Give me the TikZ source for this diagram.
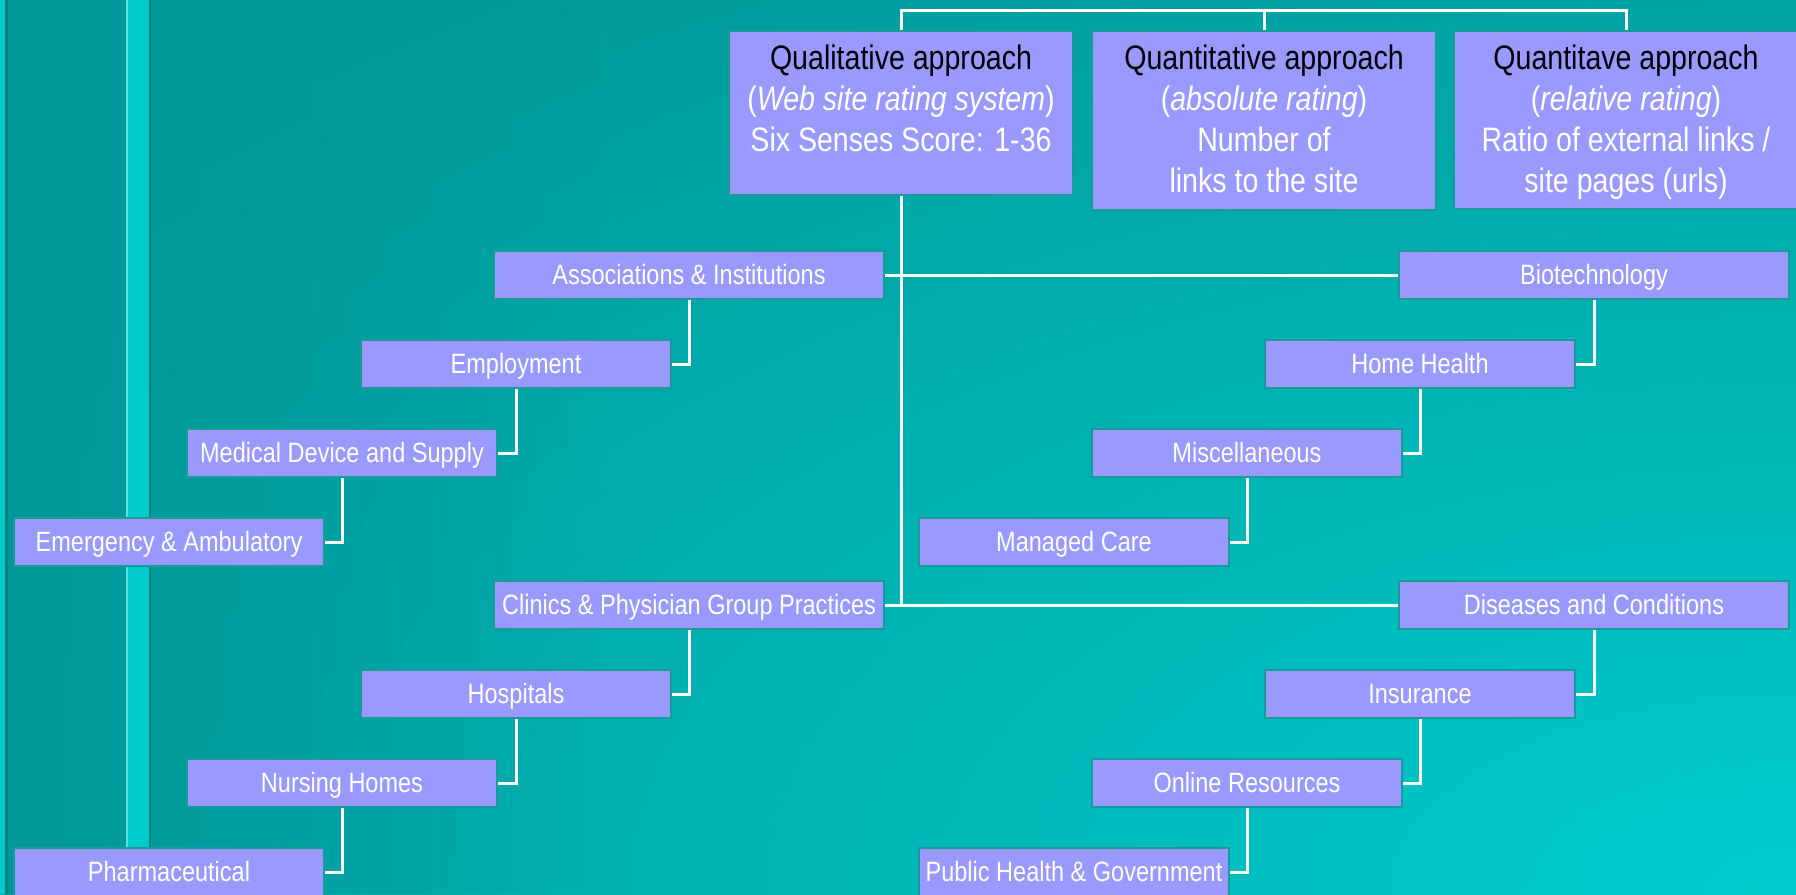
\documentclass[tikz,border=0pt]{standalone}
\usepackage{fontspec}
\setmainfont{Liberation Sans}[FakeStretch=0.84]
\definecolor{bgdark}{HTML}{009999}
\definecolor{bglight}{HTML}{00CCCC}
\definecolor{boxfill}{HTML}{9999FF}
\definecolor{boxline}{HTML}{1A9A9A}
\definecolor{stripe}{HTML}{00CCCC}
\definecolor{stripedk}{HTML}{008080}
\definecolor{stripelt}{HTML}{5FE0E0}
\begin{document}
\begin{tikzpicture}[x=1pt,y=-1pt,
  box/.style={draw=boxline, line width=1.2pt, fill=boxfill, inner sep=0pt, minimum height=48pt, text height=20pt, text depth=2pt, text=white, font=\fontsize{28}{34}\selectfont},
  wbox/.style={box, minimum width=390pt},
  nbox/.style={box, minimum width=310pt},
  tbox/.style={draw=boxline, line width=1.2pt, fill=boxfill, minimum width=344pt, inner sep=0pt},
  ttext/.style={align=center, anchor=north, inner sep=0pt, text=white, font=\fontsize{34}{41}\selectfont},
  conn/.style={draw=white, line width=3pt}]
\useasboundingbox (0,0) rectangle (1796,894);
\begin{scope}
\clip (0,0) rectangle (1796,894);
\fill[bgdark] (0,0) rectangle (1796,894);
\foreach \i in {56,55,...,1} {
  \pgfmathsetmacro\rr{\i*0.025}
  \pgfmathsetmacro\pp{max(0,100-78.4*\rr)}
  \fill[bglight!\pp!bgdark] (1796,894) ellipse ({\rr*1796pt} and {\rr*894pt});
}
\foreach \k in {0,...,59} {
  \pgfmathsetmacro\op{1-\k/60}
  \fill[bgdark, fill opacity=\op] (\k*10,0) rectangle (\k*10+10.5,894);
}
\end{scope}
% left decorative stripes
\fill[stripe] (0,0) rectangle (5,894);
\fill[stripedk] (5,0) rectangle (8,894);
\fill[stripelt] (126,0) rectangle (128,894);
\fill[stripe] (128,0) rectangle (149,894);
\fill[stripedk] (149,0) rectangle (151,894);

% top boxes
\node[tbox, minimum height=164pt] (q1) at (901,113) {};
\node[tbox, minimum height=179pt] (q2) at (1264,120.5) {};
\node[tbox, minimum height=178pt] (q3) at (1626,120) {};
\node[ttext] (t1) at ([yshift=-14pt]q1.north) {\textcolor{black}{Qualitative approach}\\(\textit{Web site rating system})\\Six Senses Score: 1-36};
\node[ttext] (t2) at ([yshift=-14pt]q2.north) {\textcolor{black}{Quantitative approach}\\(\textit{absolute rating})\\Number of\\links to the site};
\node[ttext] (t3) at ([yshift=-14pt]q3.north) {\textcolor{black}{Quantitave approach}\\(\textit{relative rating})\\Ratio of external links /\\site pages (urls)};

% left branch
\node[wbox] (assoc) at (689,275) {Associations \& Institutions};
\node[nbox] (employ) at (516,364) {Employment};
\node[nbox] (meddev) at (342,453) {Medical Device and Supply};
\node[nbox] (emerg) at (169,542) {Emergency \& Ambulatory};
\node[wbox] (clinics) at (689,605) {Clinics \& Physician Group Practices};
\node[nbox] (hosp) at (516,694) {Hospitals};
\node[nbox] (nursing) at (342,783) {Nursing Homes};
\node[nbox] (pharm) at (169,872) {Pharmaceutical};

% right branch
\node[wbox] (biotech) at (1594,275) {Biotechnology};
\node[nbox] (home) at (1420,364) {Home Health};
\node[nbox] (misc) at (1247,453) {Miscellaneous};
\node[nbox] (managed) at (1074,542) {Managed Care};
\node[wbox] (diseases) at (1594,605) {Diseases and Conditions};
\node[nbox] (insur) at (1420,694) {Insurance};
\node[nbox] (online) at (1247,783) {Online Resources};
\node[nbox] (public) at (1074,872) {Public Health \& Government};

% connectors
\coordinate (bus) at (0,10);
\draw[conn] (q1.north) -- (q1.north |- bus) -- (q3.north |- bus) -- (q3.north);
\draw[conn] (q2.north) -- (q2.north |- bus);
\draw[conn] (q1.south) -- (q1.south |- clinics.east);
\draw[conn] (assoc.east) -- (biotech.west);
\draw[conn] (clinics.east) -- (diseases.west);

\draw[conn] (assoc.south) |- (employ.east);
\draw[conn] (employ.south) |- (meddev.east);
\draw[conn] (meddev.south) |- (emerg.east);
\draw[conn] (clinics.south) |- (hosp.east);
\draw[conn] (hosp.south) |- (nursing.east);
\draw[conn] (nursing.south) |- (pharm.east);

\draw[conn] (biotech.south) |- (home.east);
\draw[conn] (home.south) |- (misc.east);
\draw[conn] (misc.south) |- (managed.east);
\draw[conn] (diseases.south) |- (insur.east);
\draw[conn] (insur.south) |- (online.east);
\draw[conn] (online.south) |- (public.east);
\end{tikzpicture}
\end{document}
